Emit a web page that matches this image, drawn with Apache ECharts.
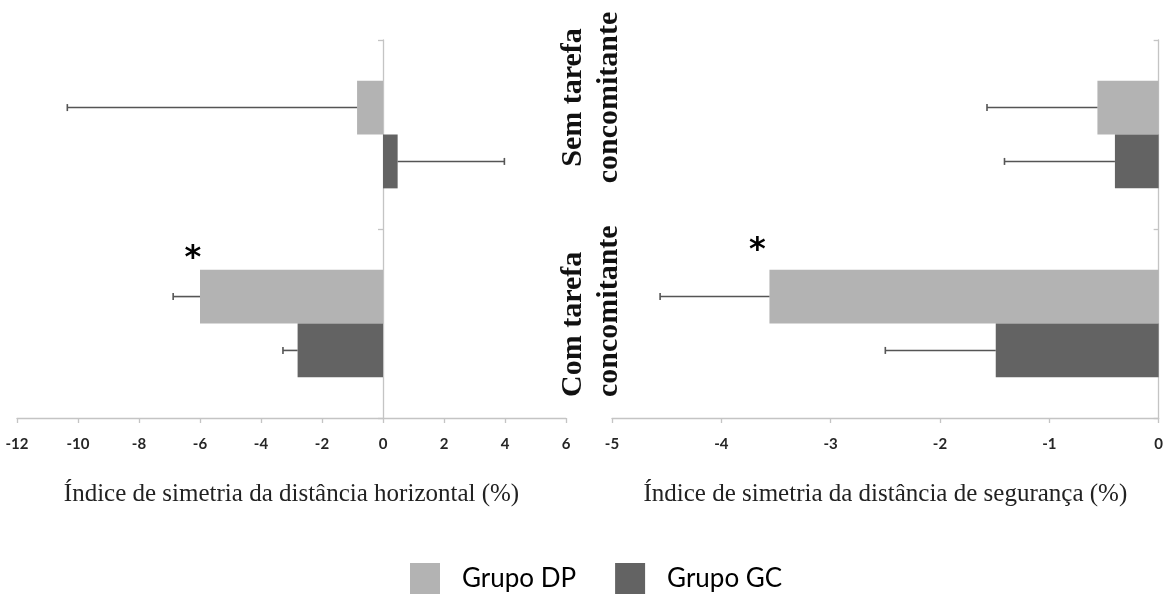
<!DOCTYPE html>
<html><head><meta charset="utf-8">
<script src="https://cdn.jsdelivr.net/npm/echarts@6/dist/echarts.min.js"></script>
<style>html,body{margin:0;padding:0;background:#fff}#c{width:1166px;height:594px}</style>
</head><body><div id="c"></div>
<script>
// ---- data ----
const categories = ['Sem tarefa concomitante', 'Com tarefa concomitante'];
const categoryLines = [['Sem tarefa', 'concomitante'], ['Com tarefa', 'concomitante']];
const seriesNames = ['Grupo DP', 'Grupo GC'];
// left panel: horizontal distance symmetry index (%)
const horizDP = [-0.85, -6.0];
const horizDPerr = [9.5, 0.88];
const horizGC = [0.48, -2.8];
const horizGCerr = [3.5, 0.48];
// right panel: safety distance symmetry index (%)
const segDP = [-0.56, -3.56];
const segDPerr = [1.01, 1.0];
const segGC = [-0.40, -1.49];
const segGCerr = [1.01, 1.01];
// axis ticks
const horizTicks = { min: -12, max: 6, interval: 2 };
const segTicks = { min: -5, max: 0, interval: 1 };
const axisTitles = ['Índice de simetria da distância horizontal (%)', 'Índice de simetria da distância de segurança (%)'];
// significance marks: [value position, category index]
const sigLeft = [-6.23, 1];
const sigRight = [-3.67, 1];

// ---- styling ----
const colDP = '#b3b3b3', colGC = '#636363';
const gapFrac = 0.43;
const axisCol = '#c4c4c4';

function errSeries(grid, vals, errs, sign) {
  return {
    type: 'custom', xAxisIndex: grid, yAxisIndex: grid, z: 5,
    data: vals.map((v, i) => [v, i, errs[i]]),
    encode: { x: 0, y: 1 },
    renderItem: function (params, api) {
      const v = api.value(0), i = api.value(1), e = api.value(2);
      const end = v + (v >= 0 ? 1 : -1) * e;
      const p0 = api.coord([v, i]);
      const p1 = api.coord([end, i]);
      const band = api.size([0, 1])[1];
      const bw = band * (1 - gapFrac) / 2;
      const y = p0[1] + sign * bw / 2;
      const st = { stroke: '#555', lineWidth: 1.6 };
      return { type: 'group', children: [
        { type: 'line', shape: { x1: p0[0], y1: y, x2: p1[0], y2: y }, style: st },
        { type: 'line', shape: { x1: p1[0], y1: y - 3.5, x2: p1[0], y2: y + 3.5 }, style: st }
      ]};
    }
  };
}
function starMark(pt, dy) {
  return {
    symbol: 'circle', symbolSize: 0, silent: true,
    data: [{ coord: [pt[0], categories[pt[1]]] }],
    label: { show: true, position: 'inside', formatter: '*', fontSize: 32, fontWeight: 'bold',
      fontFamily: 'DejaVu Sans', color: '#000', offset: [0, dy] }
  };
}
function xAx(grid, t, name) {
  return {
    type: 'value', gridIndex: grid, min: t.min, max: t.max, interval: t.interval,
    splitLine: { show: false },
    axisLine: { show: true, lineStyle: { color: axisCol, width: 1.3 } },
    axisTick: { show: true, length: 5, lineStyle: { color: axisCol, width: 1.3 } },
    axisLabel: { color: '#262626', fontSize: 15, fontWeight: 'bold', fontFamily: 'Lato', margin: 19 },
    name: name, nameLocation: 'middle', nameGap: 64,
    nameTextStyle: { fontFamily: 'Liberation Serif', fontSize: 25, color: '#222' }
  };
}
function yAx(grid) {
  return {
    type: 'category', gridIndex: grid, inverse: true, data: categories,
    axisLine: { show: true, onZero: true, lineStyle: { color: axisCol, width: 1.3 } },
    axisTick: { show: true, length: 5, lineStyle: { color: axisCol, width: 1.3 } },
    axisLabel: { show: false }, splitLine: { show: false }
  };
}
function barSer(name, grid, vals, color, mark) {
  const s = {
    name: name, type: 'bar', xAxisIndex: grid, yAxisIndex: grid, data: vals,
    barGap: '0%', barCategoryGap: (gapFrac * 100) + '%',
    itemStyle: { color: color }
  };
  if (mark) s.markPoint = mark;
  return s;
}

// rotated category label placement (layout only)
const labelPos = [
  { x: 591, y: 97.5, align: 'center' },
  { x: 591, y: 397, align: 'left' }
];

const chart = echarts.init(document.getElementById('c'));
chart.setOption({
  animation: false,
  backgroundColor: '#fff',
  grid: [
    { left: 17, top: 40, width: 549, height: 378 },
    { left: 612, top: 40, width: 550, height: 378 }
  ],
  xAxis: [xAx(0, horizTicks, axisTitles[0]), xAx(1, segTicks, axisTitles[1])],
  yAxis: [yAx(0), yAx(1)],
  legend: {
    data: seriesNames, left: 410, top: 563, padding: 0, icon: 'rect',
    itemWidth: 30, itemHeight: 31, itemGap: 39,
    textStyle: { fontFamily: 'Lato', fontSize: 26, color: '#000', padding: [0, 0, 0, 17] }
  },
  graphic: categoryLines.map((lines, k) => ({
    type: 'text', x: labelPos[k].x, y: labelPos[k].y, rotation: Math.PI / 2,
    style: { text: lines.join('\n'), fontFamily: 'Liberation Serif', fontWeight: 'bold',
      fontSize: 30, lineHeight: 36, fill: '#111', textAlign: labelPos[k].align, textVerticalAlign: 'middle' }
  })),
  series: [
    barSer(seriesNames[0], 0, horizDP, colDP, starMark(sigLeft, -38)),
    barSer(seriesNames[1], 0, horizGC, colGC),
    barSer(seriesNames[0], 1, segDP, colDP, starMark(sigRight, -46)),
    barSer(seriesNames[1], 1, segGC, colGC),
    errSeries(0, horizDP, horizDPerr, -1),
    errSeries(0, horizGC, horizGCerr, 1),
    errSeries(1, segDP, segDPerr, -1),
    errSeries(1, segGC, segGCerr, 1)
  ]
});
</script></body></html>
